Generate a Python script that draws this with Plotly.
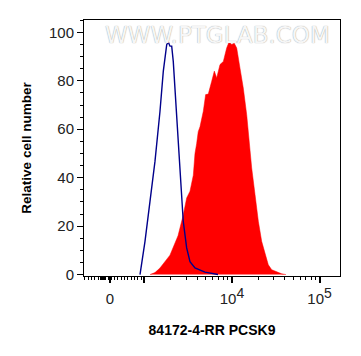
import numpy as np
import plotly.graph_objects as go

# ---- data (x in log10 fluorescence units, y = relative cell number) ----
control_log = [2.949, 3.006, 3.063, 3.120, 3.177, 3.215, 3.254, 3.272, 3.291, 3.311,
               3.329, 3.368, 3.406, 3.443, 3.482, 3.520, 3.577, 3.691, 3.840]
control_count = [0, 13.7, 30.2, 46.7, 67.3, 83.9, 94.9, 96, 94.3, 94.3,
                 88, 64.8, 41.3, 22, 11, 5.3, 2.7, 1.0, 0]

sample_log = [3.063, 3.120, 3.177, 3.291, 3.383, 3.443, 3.482, 3.520, 3.558, 3.577,
              3.596, 3.614, 3.634, 3.672, 3.699, 3.729, 3.768, 3.798, 3.825, 3.863,
              3.901, 3.939, 3.966, 3.997, 4.026, 4.054, 4.091, 4.129, 4.168, 4.186,
              4.225, 4.263, 4.301, 4.339, 4.377, 4.415, 4.454, 4.511, 4.568, 4.617]
sample_count = [0, 0.8, 2.7, 8, 16, 24.6, 31.6, 34.4, 41, 50,
                54, 59, 61, 67.4, 74.3, 74.5, 79.8, 84, 81.2, 86.7,
                88, 93.5, 96, 95, 95.5, 93.5, 85.3, 77, 66, 57.8,
                44, 33, 22, 13.7, 8.3, 4, 2, 1, 0.3, 0]

zero_pos = 2.606          # display position of "0" on the biexponential axis
x_tick_vals = [zero_pos, 4, 5]
x_tick_text = ["0",
               "10<sup><span style='font-size:14px'>4</span></sup>",
               "10<sup><span style='font-size:14px'>5</span></sup>"]
y_tick_vals = [0, 20, 40, 60, 80, 100]
x_range = [2.309, 5.234]

# minor tick positions (styling)
px_per_dec = 87.5
lin_minor = [4 + (p - 232) / px_per_dec for p in list(np.arange(85, 142, 3.3)) + [101, 102, 103, 104, 105, 106]]
log_minor = [d + np.log10(m) for d in (3, 4) for m in range(2, 10)]
x_minor = lin_minor + log_minor

fig = go.Figure()
fig.add_trace(go.Scatter(
    x=sample_log, y=sample_count, mode="lines", fill="tozeroy",
    fillcolor="#ff0000", line=dict(color="#ff0000", width=0.5),
    hoverinfo="skip", showlegend=False))
fig.add_trace(go.Scatter(
    x=control_log, y=control_count, mode="lines",
    line=dict(color="#00008b", width=1.4),
    hoverinfo="skip", showlegend=False))
# helper trace so the decade-tick axis is drawn
fig.add_trace(go.Scatter(x=[], y=[], xaxis="x2", showlegend=False, hoverinfo="skip"))

fig.add_annotation(
    text="WWW.PTGLAB.COM", xref="paper", yref="paper", x=0.52, y=1.0,
    xanchor="center", yanchor="top", showarrow=False,
    font=dict(family="DejaVu Sans", size=23, color="#f6f6f6",
              shadow="0px 0px 1px #8c8c8c"))

# page body has an 8px default margin, so the figure is 8px smaller
fig.update_layout(
    width=353, height=348,
    margin=dict(l=76, r=21, t=12, b=80, autoexpand=False),
    paper_bgcolor="white", plot_bgcolor="white",
    font=dict(family="Liberation Sans, Arial", color="#222222"),
    xaxis=dict(
        range=x_range, showgrid=False, zeroline=False, automargin=False,
        showline=True, linecolor="black", linewidth=1, mirror=True,
        tickmode="array", tickvals=x_tick_vals, ticktext=x_tick_text,
        ticks="outside", ticklen=6, tickcolor="black", tickwidth=1.5,
        ticklabelstandoff=3,
        tickfont=dict(size=15, color="#222222"),
        minor=dict(tickvals=x_minor, ticks="outside", ticklen=3,
                   tickcolor="black", tickwidth=1, showgrid=False),
        title=dict(text="<b>84172-4-RR PCSK9</b>", standoff=19,
                   font=dict(size=14, color="black")),
    ),
    xaxis2=dict(
        overlaying="x", matches="x", range=x_range, side="bottom",
        showgrid=False, zeroline=False, automargin=False, showline=False,
        tickmode="array", tickvals=[3], showticklabels=False,
        ticks="outside", ticklen=6, tickcolor="black", tickwidth=1.5,
    ),
    yaxis=dict(
        range=[-0.6, 105.1], showgrid=False, zeroline=False, automargin=False,
        showline=True, linecolor="black", linewidth=1, mirror=True,
        tickmode="array", tickvals=y_tick_vals,
        ticks="outside", ticklen=6, tickcolor="black", tickwidth=1,
        tickfont=dict(size=15, color="#222222"),
        minor=dict(dtick=5, tick0=0, ticks="outside", ticklen=3,
                   tickcolor="black", tickwidth=1, showgrid=False),
        title=dict(text="<b>Relative cell number</b>", standoff=14,
                   font=dict(size=13.5, color="black")),
    ),
)

fig.write_html("out.html")
